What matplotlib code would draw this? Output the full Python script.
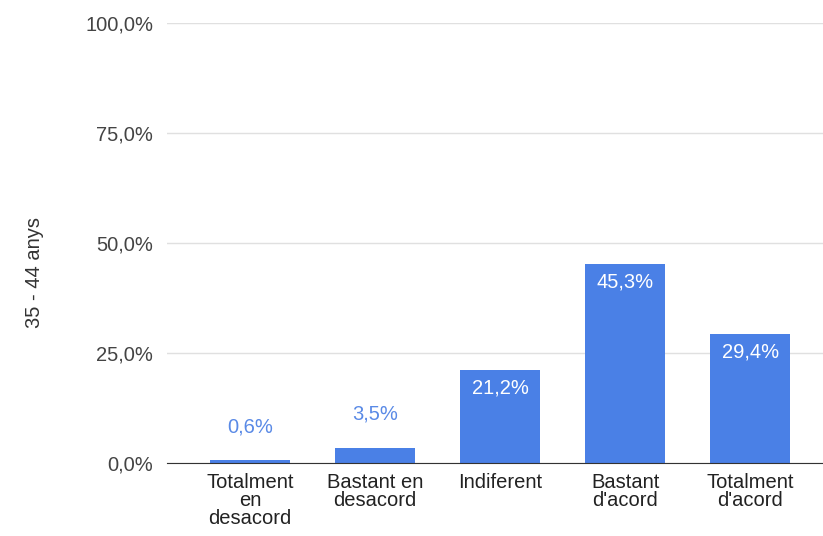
import numpy as np
import matplotlib
matplotlib.use("Agg")
import matplotlib.pyplot as plt

plt.rcParams['font.family'] = ['Liberation Sans', 'DejaVu Sans']

# dades
categories = ["Totalment\nen\ndesacord", "Bastant en\ndesacord", "Indiferent",
              "Bastant\nd'acord", "Totalment\nd'acord"]
values = [0.6, 3.5, 21.2, 45.3, 29.4]
yticks = [0, 25, 50, 75, 100]
ylabel = "35 - 44 anys"

bar_color = "#4a80e6"
fs = 14.5

fig = plt.figure(figsize=(8.23, 5.36), dpi=100)
ax = fig.add_axes([0.203, 0.136, 0.797, 0.821])

x = np.arange(len(values))
ax.bar(x, values, width=0.64, color=bar_color, zorder=3)

ax.set_xlim(-0.664, 4.58)
ax.set_ylim(0, 100)
ax.set_yticks(yticks)
ax.set_yticklabels([f"{v:.1f}%".replace(".", ",") for v in yticks], fontsize=fs, color="#444444")
ax.set_xticks(x)
ax.set_xticklabels(categories, fontsize=fs, color="#222222", linespacing=0.95)
ax.tick_params(axis='y', length=0, pad=10)
ax.tick_params(axis='x', length=0, pad=7)

ax.grid(axis='y', color="#e0e0e0", linewidth=1, zorder=0)
for s in ["top", "right", "left"]:
    ax.spines[s].set_visible(False)
ax.spines["bottom"].set_color("#333333")
ax.spines["bottom"].set_zorder(4)

fig.text(34 / 823, 1 - 272 / 536, ylabel, rotation=90, ha="center", va="center",
         fontsize=fs, color="#333333")

# etiquetes de valor
for xi, v in zip(x, values):
    txt = f"{v:.1f}%".replace(".", ",")
    if v > 10:
        ax.annotate(txt, (xi, v), xytext=(0, -13), textcoords="offset points",
                    ha="center", va="center", fontsize=fs, color="white", zorder=5)
    else:
        ax.annotate(txt, (xi, v), xytext=(0, 24), textcoords="offset points",
                    ha="center", va="center", fontsize=fs, color="#5a8ae6", zorder=5)

fig.savefig("out.png", dpi=100)
